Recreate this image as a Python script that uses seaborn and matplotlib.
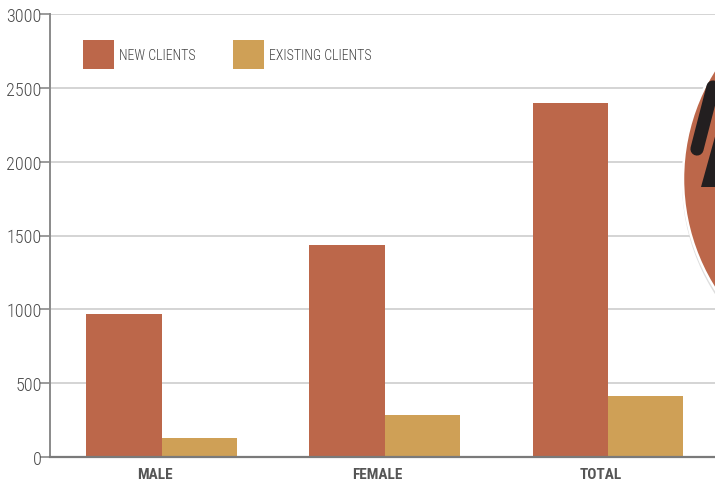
import matplotlib
matplotlib.use("Agg")
import matplotlib.pyplot as plt
import matplotlib.transforms as mtransforms
import seaborn as sns
import pandas as pd
from matplotlib import font_manager as fm
from matplotlib.patches import Ellipse, Polygon, Patch
from matplotlib.lines import Line2D

categories = ["MALE", "FEMALE", "TOTAL"]
series = ["NEW CLIENTS", "EXISTING CLIENTS"]
new_clients = [968, 1435, 2397]
existing_clients = [129, 284, 413]
y_ticks = [0, 500, 1000, 1500, 2000, 2500, 3000]

colors = {"NEW CLIENTS": "#BC674A", "EXISTING CLIENTS": "#CFA056"}

df = pd.DataFrame({
    "category": categories * 2,
    "series": [series[0]] * 3 + [series[1]] * 3,
    "value": new_clients + existing_clients,
})

# Pick a narrow sans family if one is available
available = {f.name for f in fm.fontManager.ttflist}
narrow = next((n for n in ["Roboto Condensed", "Archivo Narrow", "Liberation Sans Narrow"]
               if n in available), None)
if narrow:
    font_kw = {"family": [narrow, "DejaVu Sans"]}
else:
    font_kw = {"family": ["DejaVu Sans"], "stretch": "condensed"}

sns.set_theme(style="white")
plt.rcParams["font.family"] = font_kw["family"]
if "stretch" in font_kw:
    plt.rcParams["font.stretch"] = "condensed"

W, H = 715, 481
fig = plt.figure(figsize=(W / 100, H / 100), dpi=100)
ax = fig.add_axes([50 / W, 1 - 458 / H, 1 - 50 / W, (458 - 15) / H])

sns.barplot(data=df, x="category", y="value", hue="series", order=categories,
            hue_order=series, palette=colors, width=0.675, saturation=1,
            linewidth=0, ax=ax, legend=False)

ax.set_ylim(0, 3000)
ax.set_xlim(-0.5, 2.48)
ax.set_yticks(y_ticks)
ax.set_yticklabels([str(t) for t in y_ticks])
ax.yaxis.grid(True, color="#d4d4d4", linewidth=1.4)
ax.set_axisbelow(True)
ax.set_xlabel("")
ax.set_ylabel("")

for side in ["top", "right"]:
    ax.spines[side].set_visible(False)
ax.spines["left"].set_color("#8a8a8a")
ax.spines["left"].set_linewidth(1.4)
ax.spines["bottom"].set_color("#7a7a7a")
ax.spines["bottom"].set_linewidth(1.6)

ax.tick_params(axis="y", length=7, width=1.2, color="#8a8a8a", pad=-1,
               labelsize=13, labelcolor="#4a4a4a", left=True)
ax.tick_params(axis="x", length=0, pad=7, labelsize=11, labelcolor="#555555")
for lbl in ax.get_yticklabels():
    lbl.set_fontweight("light")
# Category labels sit slightly left of each bar pair
shift = mtransforms.ScaledTranslation(-7 / 100, 0, fig.dpi_scale_trans)
for lbl in ax.get_xticklabels():
    lbl.set_fontweight("bold")
    lbl.set_transform(lbl.get_transform() + shift)

handles = [Patch(facecolor=colors[s], edgecolor="none") for s in series]
leg = ax.legend(handles, series, loc="center left",
                bbox_to_anchor=((83 - 50) / (W - 50), (458 - 56) / 443),
                ncol=2, frameon=False, handlelength=2.2, handleheight=1.0,
                handletextpad=0.4, columnspacing=2.7, borderaxespad=0,
                borderpad=0, prop={"size": 10, "weight": "light"})
for t in leg.get_texts():
    t.set_color("#444444")
# Tall square swatches, kept centred on their labels
for h in leg.legend_handles:
    h0 = h.get_height()
    h.set_y(h.get_y() + (h0 - 21) / 2)
    h.set_height(21)

# Decorative badge at the right edge
def fx(px):
    return px / W

def fy(py):
    return 1 - py / H

cx, cy, r = 888, 180, 205
shadow = Ellipse((fx(cx + 1), fy(cy + 3)), 2 * (r + 2) / W, 2 * (r + 2) / H,
                 transform=fig.transFigure, facecolor="#d0d0d0", edgecolor="none",
                 alpha=0.7, zorder=5)
badge = Ellipse((fx(cx), fy(cy)), 2 * r / W, 2 * r / H, transform=fig.transFigure,
                facecolor="#BC674A", edgecolor="white", linewidth=1.8, zorder=6)
fig.patches.extend([shadow, badge])
stroke = Line2D([fx(713), fx(697)], [fy(88), fy(150)], transform=fig.transFigure,
                color="#231f20", linewidth=9.5, solid_capstyle="round", zorder=7)
fig.lines.append(stroke)
wedge = Polygon([(fx(716), fy(134)), (fx(701), fy(188)), (fx(716), fy(188))],
                closed=True, transform=fig.transFigure, facecolor="#231f20",
                edgecolor="none", zorder=7)
fig.patches.append(wedge)

fig.savefig("out.png", dpi=100)
